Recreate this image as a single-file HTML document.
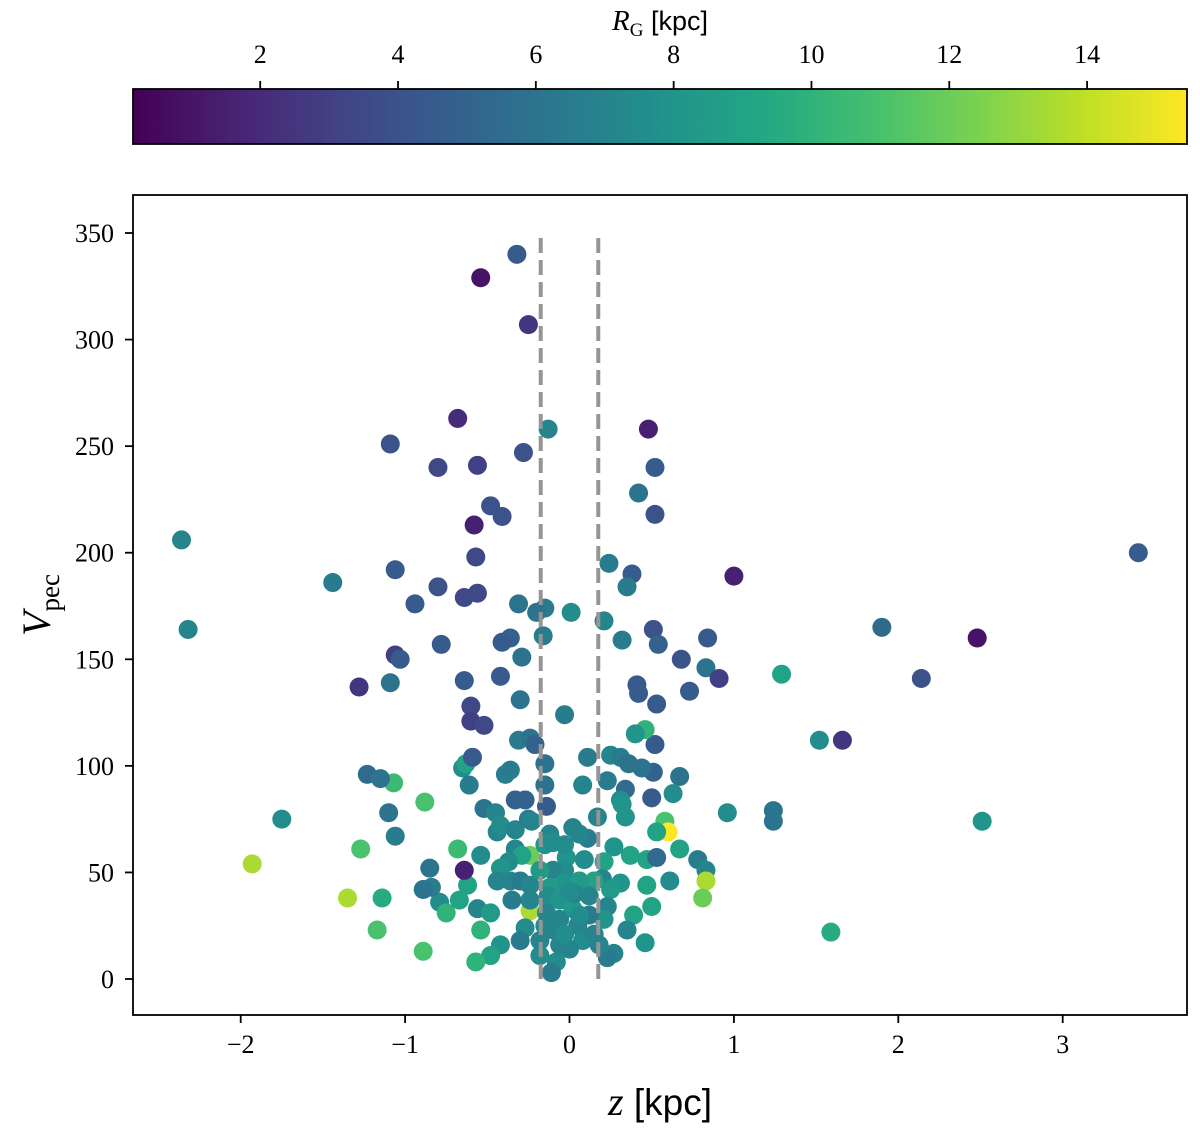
<!DOCTYPE html>
<html><head><meta charset="utf-8"><style>
body{margin:0;background:#fff}
svg text{font-family:"Liberation Serif",serif}
</style></head><body>
<svg id="chart" width="1200" height="1129" viewBox="0 0 1200 1129" xmlns="http://www.w3.org/2000/svg">
<defs>
<linearGradient id="vir" x1="0" x2="1" y1="0" y2="0">
<stop offset="0" stop-color="#440154"/><stop offset="0.1" stop-color="#482475"/><stop offset="0.2" stop-color="#414487"/><stop offset="0.3" stop-color="#355f8d"/><stop offset="0.4" stop-color="#2a788e"/><stop offset="0.5" stop-color="#21918c"/><stop offset="0.6" stop-color="#22a884"/><stop offset="0.7" stop-color="#44bf70"/><stop offset="0.8" stop-color="#7ad151"/><stop offset="0.9" stop-color="#bddf26"/><stop offset="1" stop-color="#fde725"/>
</linearGradient>
</defs>
<g id="cbar">
<rect x="133" y="89" width="1054" height="55" fill="url(#vir)" stroke="#000" stroke-width="1.8"/>
<text x="660" y="30" font-size="29" text-anchor="middle"><tspan font-style="italic">R</tspan><tspan font-size="19" dy="6">G</tspan><tspan dy="-6" font-family="Liberation Sans,sans-serif" font-size="27"> [kpc]</tspan></text>
</g>
<g id="plot">
<rect x="133" y="195" width="1054" height="820" fill="none" stroke="#000" stroke-width="1.8"/>
</g>
<text x="660" y="1115" font-size="40" text-anchor="middle"><tspan font-style="italic">z</tspan><tspan font-family="Liberation Sans,sans-serif" font-size="37"> [kpc]</tspan></text>
<text transform="translate(50,605) rotate(-90)" font-size="40" text-anchor="middle"><tspan font-style="italic">V</tspan><tspan font-size="27" dy="9">pec</tspan></text>
</svg>
<script>
const xTicks=[-2,-1,0,1,2,3];
const yTicks=[0,50,100,150,200,250,300,350];
const cTicks=[2,4,6,8,10,12,14];
const dashZ=[-0.175,0.175];
const zVals=[-2.36,-2.32,-1.44,-1.06,-0.94,-0.80,-1.09,-0.80,-0.68,-0.56,-0.54,-0.32,-0.25,-0.13,-0.28,-0.48,-0.41,-0.58,-0.57,-0.56,-0.64,-0.31,-0.15,-0.20,0.01,-0.16,-0.36,-0.41,-0.29,-0.78,-1.06,-1.03,-1.09,-1.28,-0.64,-0.42,-0.30,-0.60,-0.60,-0.52,-0.03,0.24,0.38,0.35,0.21,0.32,0.42,0.52,0.48,0.52,0.51,0.54,0.41,0.42,0.53,0.68,0.84,0.83,0.73,0.91,1.00,1.29,1.52,1.66,1.90,2.14,2.48,3.46,2.51,1.59,1.24,1.24,0.96,0.51,0.52,0.46,0.40,0.67,0.63,0.50,0.58,0.60,0.53,0.67,0.78,0.83,0.83,0.81,0.61,0.47,0.53,0.47,0.50,0.39,0.35,0.46,0.27,0.23,0.37,0.27,0.21,0.20,0.31,0.15,0.25,0.23,0.21,0.12,0.05,0.11,0.06,0.17,0.25,0.31,0.36,0.44,0.34,0.31,0.32,0.34,0.23,0.11,0.08,0.02,-0.02,-0.03,-0.10,-0.03,-0.12,-0.13,-0.06,0.02,0.12,0.08,0.00,-0.08,-0.11,-0.06,-0.18,-0.15,-0.24,-0.27,-0.30,-0.42,-0.48,-0.57,-0.54,-0.56,-0.48,-0.62,-0.64,-0.54,-0.68,-0.79,-0.84,-0.89,-0.75,-0.89,-0.85,-0.88,-1.07,-1.10,-1.06,-1.14,-1.17,-1.27,-1.35,-1.23,-1.15,-1.75,-1.93,-0.65,-0.63,-0.61,-0.59,-0.52,-0.45,-0.44,-0.42,-0.33,-0.39,-0.36,-0.33,-0.27,-0.31,-0.24,-0.21,-0.15,-0.15,-0.14,-0.25,-0.23,-0.12,-0.33,-0.24,-0.29,-0.37,-0.42,-0.36,-0.30,-0.24,-0.24,-0.35,-0.18,-0.15,-0.10,-0.03,0.09,0.06,0.03,0.06,-0.06,-0.10,-0.18,-0.03,0.15,0.18,0.00,-0.14,-0.44,-0.67];
const vVals=[206,164,186,192,176,184,251,240,263,241,329,340,307,258,247,222,217,213,198,181,179,176,174,172,172,161,160,158,151,157,152,150,139,137,140,142,131,128,121,119,124,195,190,184,168,159,228,240,258,218,164,157,138,134,129,150,160,146,135,141,189,143,112,112,165,141,160,200,74,22,79,74,78,97,110,117,115,95,87,85,74,69,69,61,56,51,46,38,46,56,57,44,34,30,23,17,12,10,58,62,55,47,45,46,42,34,28,30,25,66,68,76,105,104,101,99,89,84,82,76,93,104,91,71,57,51,51,45,43,39,37,33,39,18,14,8,3,16,11,25,32,24,18,16,11,8,23,33,31,44,51,58,61,36,43,42,31,13,52,83,92,78,67,38,23,61,38,96,94,75,54,99,101,91,104,80,78,69,72,70,96,98,84,84,112,113,110,101,91,81,75,74,68,61,58,58,55,52,46,46,44,37,37,51,63,64,63,56,46,40,30,28,23,18,21,21,16,41,31,46,37];
const rVals=[7,7,6.5,4.5,4.5,4,4,3.5,2,3,1,4.5,2.5,7,4,4,4,1.5,3.5,3.5,3.5,6,6.5,6,7.5,6.5,5,4.5,6,4.5,3,4.5,6,2.5,4.5,4.5,6,3.5,3,3.5,6.5,6.5,4.5,6.5,7,6.5,6,4.5,1.5,4,4,5,4.5,4.5,4.5,4,4.5,6,4.5,3,1.5,9,7.5,2.5,5.5,4,1,4.5,8,9.5,6,6,7.5,5,4.5,10,8,6,7.5,4.5,11,15.5,9,9,6.5,7,13.5,12,7.5,9,5.5,9,9,9,7,8,7,6.5,9,8,9,7,8,9,8.5,7,8,6.5,7,6.5,7,7,7,6.5,6,6,5.5,7.5,8,8,6.5,6.5,7,7,8,7.5,7,8,8.5,7.5,8,8.5,7,7.5,7,7.5,6.5,7,7.5,7.5,13.5,7.5,6.5,8,9,10,10,7,8.5,9,1.5,7.5,10.5,7.5,6.5,6,10,11,6,11,10.5,6,6.5,9.5,11,11,13.5,5.5,6,7.5,13.5,7.5,9,6.5,4.5,6,7,7,7.5,7,6.5,6.5,5,5,6.5,6,5,6,6,4.5,6.5,7,7,7,12,9,7.5,8,7,6.5,7,7,6.5,8.5,8,7.5,7.5,7.5,8.5,7,7.5,7,7,7,7.5,7,7,7.5,7,7,9];
const NS='http://www.w3.org/2000/svg';
const X0=569.5,XS=164.4,Y0=979,YS=746/350;
const xS=z=>X0+z*XS, yS=v=>Y0-v*YS;
const CMIN=0.154,CMAX=15.45;
const cX=r=>133+(r-CMIN)/(CMAX-CMIN)*1054;
const vir=[[68,1,84],[72,36,117],[65,68,135],[53,95,141],[42,120,142],[33,145,140],[34,168,132],[68,191,112],[122,209,81],[189,223,38],[253,231,37]];
function col(r){let t=Math.max(0,Math.min(1,(r-CMIN)/(CMAX-CMIN)))*10;let i=Math.min(9,Math.floor(t)),f=t-i;const a=vir[i],b=vir[i+1];return 'rgb('+a.map((c,k)=>Math.round(c+(b[k]-c)*f)).join(',')+')';}
const svg=document.getElementById('chart'),plot=document.getElementById('plot'),cbar=document.getElementById('cbar');
function mk(tag,at,parent){const e=document.createElementNS(NS,tag);for(const k in at)e.setAttribute(k,at[k]);parent.appendChild(e);return e;}
const pts=mk('g',{},plot);


for(let i=0;i<zVals.length;i++){
 const c=mk('circle',{cx:xS(zVals[i]),cy:yS(vVals[i]),r:9.5,fill:col(rVals[i])},pts);
 
 
}
dashZ.forEach(z=>{
 const l=mk('line',{x1:xS(z),x2:xS(z),y1:yS(0),y2:yS(350),stroke:'#959595','stroke-width':4,'stroke-dasharray':'15,7'},plot);
 
 
});
xTicks.forEach(t=>{
 const x=xS(t);
 const tk=mk('line',{x1:x,x2:x,y1:1015,y2:1023,stroke:'#000','stroke-width':1.8},svg);
 
 
 const tx=mk('text',{x:x,y:1053,'font-size':26,'text-anchor':'middle'},svg);
 tx.textContent=t<0?'\u2212'+(-t):String(t);
 
 
});
yTicks.forEach(t=>{
 const y=yS(t);
 const tk=mk('line',{x1:125,x2:133,y1:y,y2:y,stroke:'#000','stroke-width':1.8},svg);
 
 
 const tx=mk('text',{x:114,y:y+9,'font-size':26,'text-anchor':'end'},svg);
 tx.textContent=String(t);
 
 
});
cTicks.forEach(t=>{
 const x=cX(t);
 const tk=mk('line',{x1:x,x2:x,y1:81,y2:89,stroke:'#000','stroke-width':1.8},cbar);
 
 
 const tx=mk('text',{x:x,y:63,'font-size':26,'text-anchor':'middle'},cbar);
 tx.textContent=String(t);
 
 
});
</script>
</body></html>
